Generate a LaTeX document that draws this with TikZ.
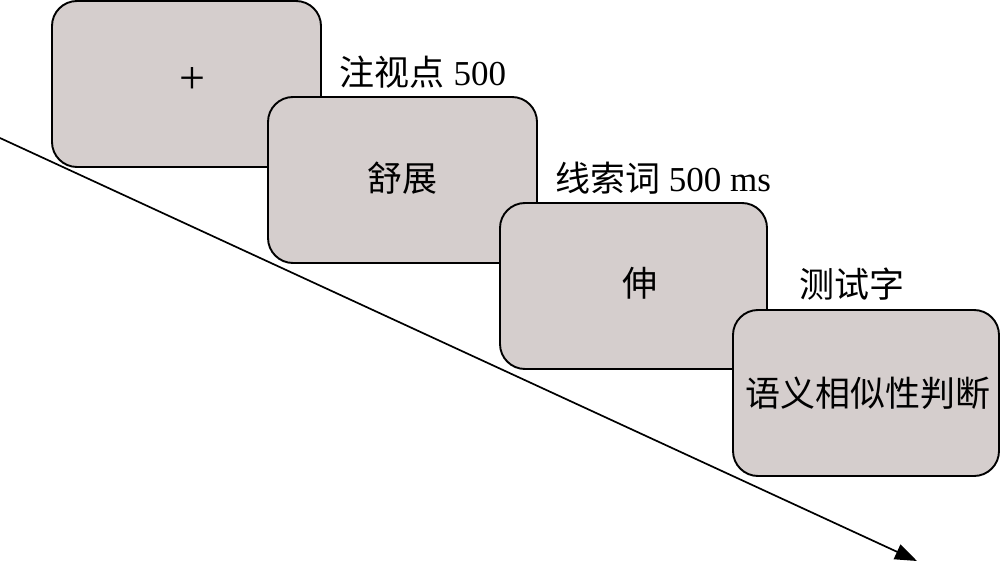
\documentclass[tikz,border=0pt]{standalone}
\usepackage{fontspec}
\setmainfont{Liberation Serif}
\newfontfamily\cjk{Noto Sans CJK SC}
\usetikzlibrary{arrows.meta}
\definecolor{boxfill}{RGB}{213,206,205}
\tikzset{
  screen/.style={draw=black, line width=1.9pt, fill=boxfill, rounded corners=25pt,
    minimum height=166pt, inner sep=0pt},
  lbl/.style={inner sep=0pt, font=\fontsize{35}{40}\selectfont},
  timeline/.style={line width=1.7pt, -{Triangle[length=22pt,width=16pt]}}
}
\begin{document}
\begin{tikzpicture}[x=1pt,y=-1pt]
\useasboundingbox (0,0) rectangle (1000,561);
\coordinate (tstart) at (0,138);
\coordinate (tend) at (917,561);
\draw[timeline] (tstart) -- (tend);
\node[screen, minimum width=269pt] (s1) at (186.5,84) {};
\node[lbl, font=\fontsize{46}{50}\selectfont] (t1) at (192,80.5) {+};
\node[screen, minimum width=269pt] (s2) at (402.5,180) {};
\node[lbl] (t2) at (402,178) {\cjk 舒展};
\node[screen, minimum width=267pt] (s3) at (633.5,286) {};
\node[lbl] (t3) at (640,283) {\cjk 伸};
\node[screen, minimum width=266pt] (s4) at (866,393) {};
\node[lbl] (t4) at (868,393) {\cjk 语义相似性判断};
\node[lbl] (l1) at (423,72) {{\cjk 注视点} 500};
\node[lbl] (l2) at (663,178) {{\cjk 线索词} 500 ms};
\node[lbl] (l3) at (852,284) {\cjk 测试字};
\end{tikzpicture}
\end{document}
